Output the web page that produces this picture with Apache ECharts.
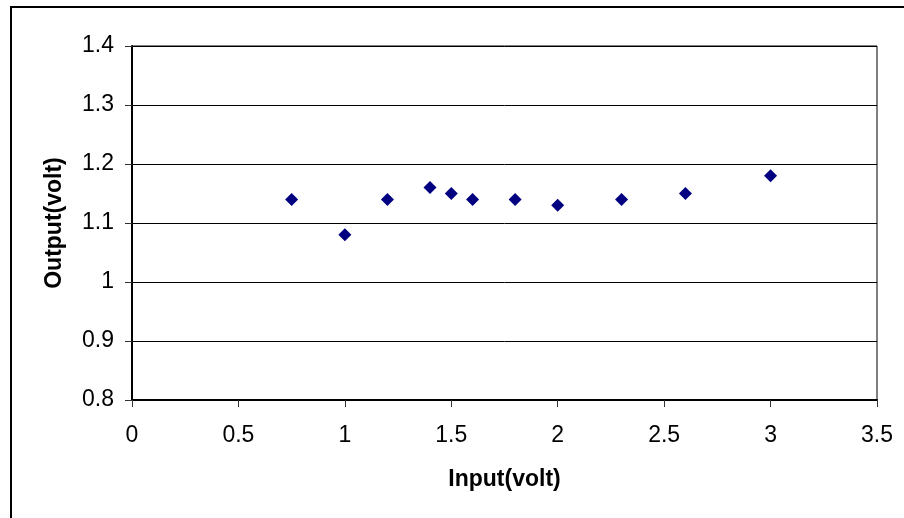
<!DOCTYPE html>
<html>
<head>
<meta charset="utf-8">
<script src="https://cdn.jsdelivr.net/npm/echarts@6/dist/echarts.min.js"></script>
<style>html,body{margin:0;padding:0;background:#fff}#c{width:904px;height:518px}</style>
</head>
<body>
<div id="c"></div>
<script>
const inputVolt = [0.75, 1.0, 1.2, 1.4, 1.5, 1.6, 1.8, 2.0, 2.3, 2.6, 3.0];
const outputVolt = [1.14, 1.08, 1.14, 1.16, 1.15, 1.14, 1.14, 1.13, 1.14, 1.15, 1.18];
const xAxisName = 'Input(volt)';
const yAxisName = 'Output(volt)';

const chart = echarts.init(document.getElementById('c'), null, {renderer: 'canvas'});
const font = 'Liberation Sans, Arial, sans-serif';
chart.setOption({
  backgroundColor: '#fff',
  animation: false,
  graphic: [{
    type: 'rect', z: 100, silent: true,
    shape: {x: 11, y: 7, width: 1000, height: 1000},
    style: {fill: 'none', stroke: '#000', lineWidth: 2}
  }],
  grid: {left: 132, top: 46, right: 27, bottom: 118, show: true, borderColor: '#000', borderWidth: 1, backgroundColor: 'transparent'},
  xAxis: {
    type: 'value', min: 0, max: 3.5, interval: 0.5,
    name: xAxisName, nameLocation: 'middle', nameGap: 68,
    nameTextStyle: {fontFamily: font, fontSize: 23, fontWeight: 'bold', color: '#000'},
    axisLine: {show: true, lineStyle: {color: '#000', width: 2}},
    axisTick: {show: true, length: 7, lineStyle: {color: '#333'}},
    axisLabel: {margin: 24, fontFamily: font, fontSize: 23, color: '#000',
      formatter: v => String(+v.toFixed(1))},
    splitLine: {show: false}
  },
  yAxis: {
    type: 'value', min: 0.8, max: 1.4, interval: 0.1,
    name: yAxisName, nameLocation: 'middle', nameGap: 66, nameRotate: 90,
    nameTextStyle: {fontFamily: font, fontSize: 23, fontWeight: 'bold', color: '#000'},
    axisLine: {show: true, lineStyle: {color: '#000', width: 2}},
    axisTick: {show: true, length: 7, lineStyle: {color: '#333'}},
    axisLabel: {margin: 18, fontFamily: font, fontSize: 23, color: '#000',
      formatter: v => String(+v.toFixed(1))},
    splitLine: {show: true, lineStyle: {color: '#000', width: 1}}
  },
  series: [{
    type: 'scatter',
    symbol: 'diamond',
    symbolSize: 13,
    itemStyle: {color: '#000080', opacity: 1},
    data: inputVolt.map((x, i) => [x, outputVolt[i]])
  }]
});
</script>
</body>
</html>
